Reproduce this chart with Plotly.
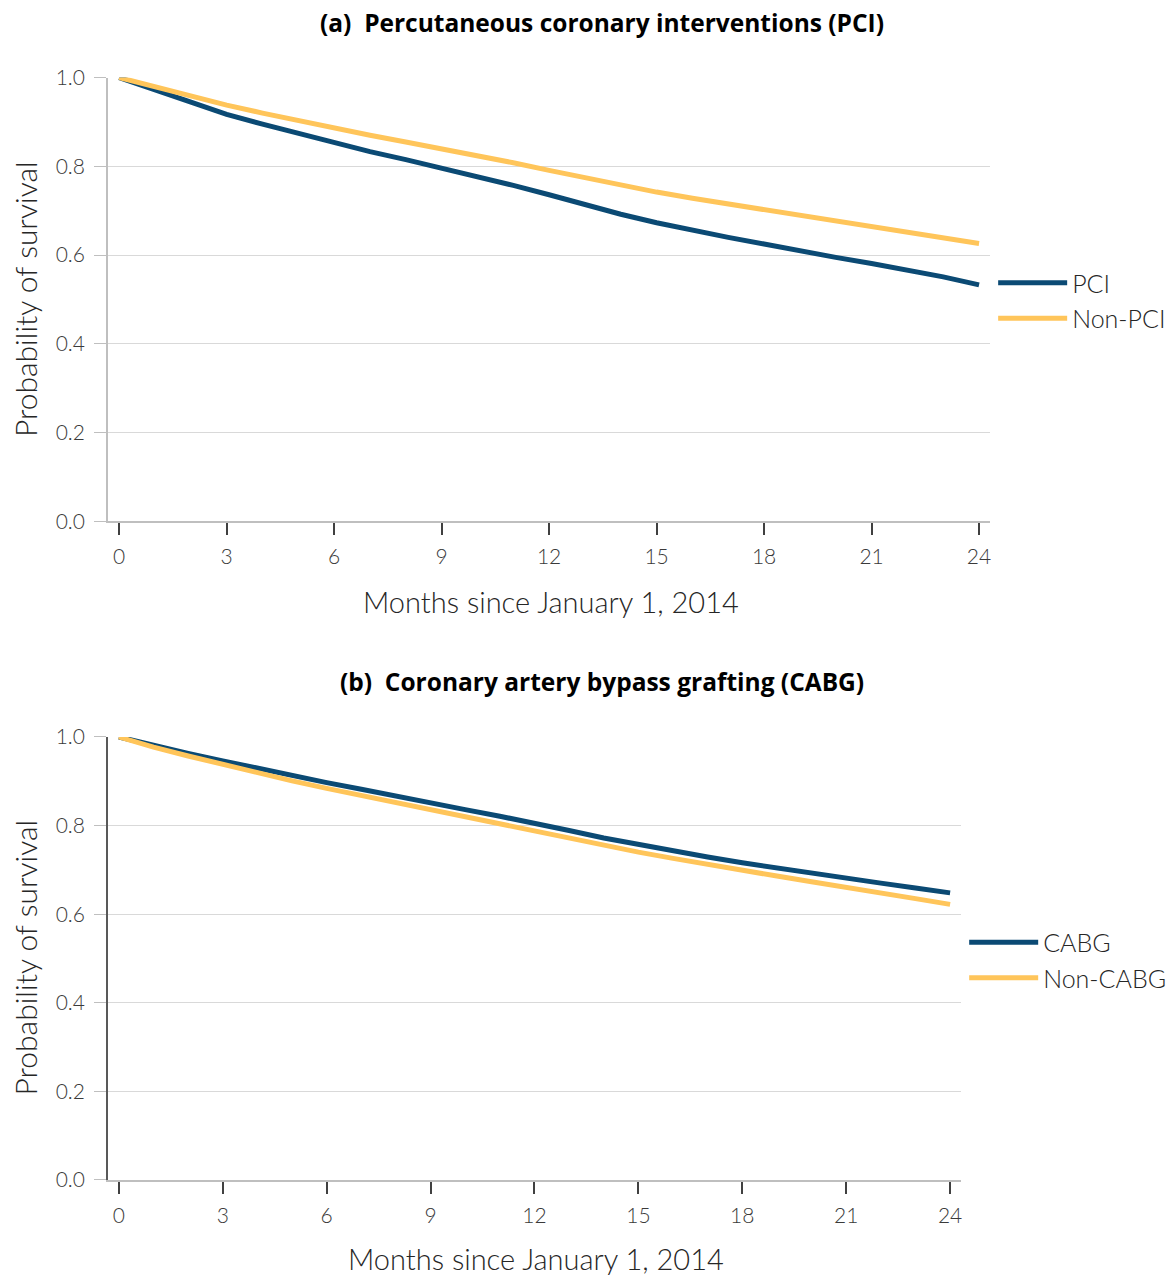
import plotly.graph_objects as go

months = list(range(0, 25))

pci = [1.0, 0.972, 0.943, 0.917, 0.895, 0.874, 0.854, 0.833, 0.815, 0.796, 0.777, 0.757,
       0.736, 0.714, 0.692, 0.673, 0.656, 0.640, 0.625, 0.609, 0.595, 0.581, 0.567, 0.551, 0.533]
non_pci = [1.0, 0.979, 0.958, 0.938, 0.920, 0.903, 0.887, 0.870, 0.855, 0.840, 0.824, 0.808,
           0.791, 0.774, 0.757, 0.742, 0.728, 0.715, 0.702, 0.689, 0.676, 0.663, 0.651, 0.639, 0.626]
cabg = [1.0, 0.981, 0.963, 0.946, 0.929, 0.912, 0.897, 0.882, 0.866, 0.851, 0.836, 0.821,
        0.806, 0.789, 0.772, 0.757, 0.743, 0.729, 0.716, 0.704, 0.692, 0.681, 0.670, 0.659, 0.648]
non_cabg = [1.0, 0.977, 0.957, 0.938, 0.919, 0.901, 0.884, 0.868, 0.853, 0.837, 0.821, 0.805,
            0.788, 0.771, 0.755, 0.740, 0.726, 0.712, 0.699, 0.686, 0.673, 0.661, 0.648, 0.635, 0.622]

x_ticks = [0, 3, 6, 9, 12, 15, 18, 21, 24]
y_ticks = [0.0, 0.2, 0.4, 0.6, 0.8, 1.0]
y_tick_text = ["0.0", "0.2", "0.4", "0.6", "0.8", "1.0"]

NAVY = "#0b4a74"
GOLD = "#ffc55a"
FONT = "Lato"
W, H = 1175, 1279


def py(y):
    # target pixel row -> paper fraction (compensates the page's vertical fit)
    return 1 - ((y - 11.3) / 0.9828) / H


fig = go.Figure()
fig.add_trace(go.Scatter(x=months, y=pci, mode="lines", name="PCI",
                         line=dict(color=NAVY, width=5), xaxis="x", yaxis="y", legend="legend"))
fig.add_trace(go.Scatter(x=months, y=non_pci, mode="lines", name="Non-PCI",
                         line=dict(color=GOLD, width=5), xaxis="x", yaxis="y", legend="legend"))
fig.add_trace(go.Scatter(x=months, y=cabg, mode="lines", name="CABG",
                         line=dict(color=NAVY, width=5), xaxis="x2", yaxis="y2", legend="legend2"))
fig.add_trace(go.Scatter(x=months, y=non_cabg, mode="lines", name="Non-CABG",
                         line=dict(color=GOLD, width=5), xaxis="x2", yaxis="y2", legend="legend2"))

tickfont = dict(family=FONT, size=21, color="#3a3a3a", weight=300)


def xax(domain, rng, anchor):
    return dict(domain=domain, range=rng, anchor=anchor, tickvals=x_ticks,
                ticktext=[str(v) for v in x_ticks], showgrid=False, zeroline=False,
                showline=True, linecolor="#bfbfbf", linewidth=1.5,
                ticks="outside", ticklen=12, tickwidth=1.5, tickcolor="#404040",
                tickfont=tickfont, ticklabelstandoff=4)


def yax(domain, anchor, linecolor):
    return dict(domain=domain, range=[0, 1], anchor=anchor, tickvals=y_ticks,
                ticktext=y_tick_text, showgrid=True, gridcolor="#d9d9d9", gridwidth=1.2,
                zeroline=False, showline=True, linecolor=linecolor, linewidth=1.5,
                ticks="outside", ticklen=12, tickwidth=1.2, tickcolor="#bfbfbf",
                tickfont=tickfont, ticklabelstandoff=5)


legfont = dict(family=FONT, size=25, color="#262626", weight=300)

fig.update_layout(
    width=W, height=H, margin=dict(l=0, r=0, t=0, b=0),
    paper_bgcolor="white", plot_bgcolor="white",
    font=dict(family=FONT, color="#262626"),
    xaxis=xax([108 / W, 991 / W], [-0.315, 24.31], "y"),
    yaxis=yax([py(520), py(75)], "x", "#bfbfbf"),
    xaxis2=xax([108 / W, 962 / W], [-0.317, 24.32], "y2"),
    yaxis2=yax([py(1180), py(736)], "x2", "#595959"),
    legend=dict(x=994 / W, y=py(258), xanchor="left", yanchor="top",
                font=legfont, itemwidth=69,
                bgcolor="rgba(0,0,0,0)", tracegroupgap=0),
    legend2=dict(x=965 / W, y=py(919), xanchor="left", yanchor="top",
                 font=legfont, itemwidth=69,
                 bgcolor="rgba(0,0,0,0)", tracegroupgap=0),
    showlegend=True,
)

titlefont = dict(family="Open Sans", size=24.5, color="#000000", weight=700)
xtfont = dict(family=FONT, size=29, color="#262626", weight=300)
ytfont = dict(family=FONT, size=30, color="#262626", weight=300)
annots = [
    dict(text="(a)  Percutaneous coronary interventions (PCI)", x=603 / W, y=py(20),
         font=titlefont),
    dict(text="(b)  Coronary artery bypass grafting (CABG)", x=603 / W, y=py(680),
         font=titlefont),
    dict(text="Months since January 1, 2014", x=551 / W, y=py(600), font=xtfont),
    dict(text="Months since January 1, 2014", x=536 / W, y=py(1259), font=xtfont),
    dict(text="Probability of survival", x=25 / W, y=py(297), textangle=-90, font=ytfont),
    dict(text="Probability of survival", x=25 / W, y=py(957), textangle=-90, font=ytfont),
]
for a in annots:
    a.update(xref="paper", yref="paper", showarrow=False, xanchor="center", yanchor="middle")
fig.update_layout(annotations=annots)

fig.write_html("out.html")
